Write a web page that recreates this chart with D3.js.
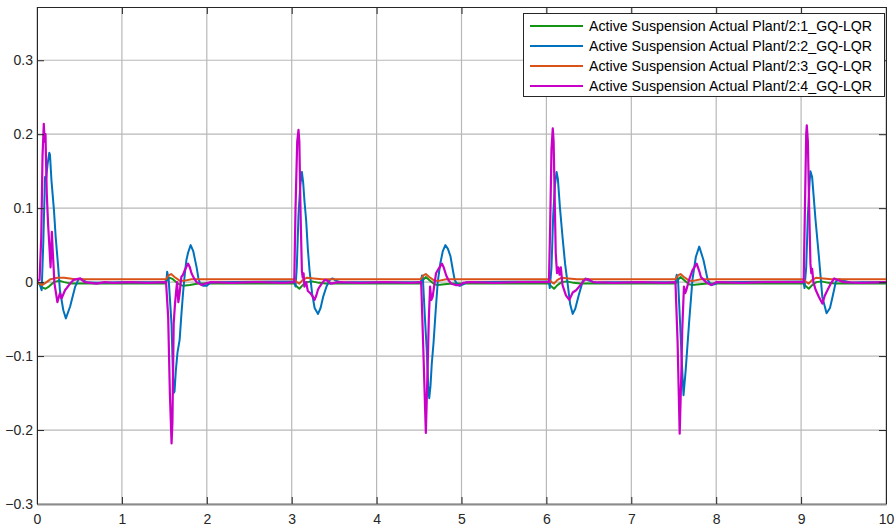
<!DOCTYPE html>
<html><head><meta charset="utf-8">
<script src="https://cdn.jsdelivr.net/npm/d3@7/dist/d3.min.js"></script>
<style>
html,body{margin:0;padding:0;background:#fff;}
svg{display:block;font-family:"Liberation Sans",Arial,sans-serif;}
</style></head>
<body>
<svg id="c" width="896" height="526"></svg>
<script>
const xTicks = [0,1,2,3,4,5,6,7,8,9,10];
const yTicks = [-0.3,-0.2,-0.1,0,0.1,0.2,0.3];
const xDomain = [0,10];
const yDomain = [-0.3,0.372];
const seriesNames = [
  "Active Suspension Actual Plant/2:1_GQ-LQR",
  "Active Suspension Actual Plant/2:2_GQ-LQR",
  "Active Suspension Actual Plant/2:3_GQ-LQR",
  "Active Suspension Actual Plant/2:4_GQ-LQR"
];
const seriesColors = ["#149414","#0072BD","#D95319","#C800C8"];

// series 1 (green) [t, value]
const s1 = [[0,0],[0.03,-0.003],[0.06,-0.007],[0.1,-0.009],[0.14,-0.006],[0.2,0.0],[0.26,0.002],[0.32,0.0],[0.4,-0.002],
[1.5,-0.002],[1.53,0.002],[1.56,0.006],[1.6,0.004],[1.66,-0.002],[1.72,-0.005],[1.8,-0.004],[1.9,-0.002],
[3.03,-0.002],[3.06,-0.006],[3.09,-0.009],[3.13,-0.004],[3.18,0.0],[3.24,0.001],[3.32,-0.001],[3.4,-0.002],
[4.52,-0.002],[4.55,0.003],[4.58,0.007],[4.62,0.003],[4.68,-0.003],[4.72,-0.004],[4.8,-0.003],[4.9,-0.002],
[6.03,-0.002],[6.06,-0.006],[6.09,-0.009],[6.13,-0.004],[6.18,0.0],[6.24,0.001],[6.32,-0.001],[6.4,-0.002],
[7.52,-0.002],[7.55,0.003],[7.58,0.007],[7.62,0.003],[7.68,-0.003],[7.72,-0.004],[7.8,-0.003],[7.9,-0.002],
[9.03,-0.002],[9.06,-0.006],[9.09,-0.009],[9.13,-0.004],[9.18,0.0],[9.24,0.001],[9.32,-0.001],[9.4,-0.002],[10,-0.002]];

// series 2 (blue)
const s2 = [[0,0],[0.03,-0.002],[0.055,-0.011],[0.074,0.053],[0.094,0.142],[0.105,0.138],[0.125,0.16],[0.145,0.175],[0.153,0.172],[0.17,0.138],[0.2,0.097],[0.22,0.061],[0.25,0.02],[0.27,-0.011],[0.31,-0.038],[0.34,-0.049],[0.39,-0.033],[0.45,-0.006],[0.49,0.004],[0.53,0.004],[0.58,0.0],[0.7,-0.001],[1.0,0.0],[1.5,0.0],
[1.525,0.002],[1.533,0.014],[1.55,0.005],[1.57,-0.03],[1.585,-0.058],[1.6,-0.12],[1.61,-0.15],[1.62,-0.148],[1.635,-0.12],[1.655,-0.095],[1.68,-0.078],[1.70,-0.045],[1.72,-0.015],[1.74,0.01],[1.76,0.03],[1.78,0.04],[1.81,0.05],[1.84,0.042],[1.88,0.02],[1.9,0.006],[1.92,-0.002],[1.96,-0.005],[2.0,-0.005],[2.04,-0.001],[2.1,0.0],
[3.03,0.001],[3.045,-0.006],[3.06,0.02],[3.08,0.09],[3.1,0.13],[3.12,0.149],[3.135,0.135],[3.15,0.11],[3.17,0.084],[3.19,0.045],[3.21,0.016],[3.24,-0.015],[3.27,-0.035],[3.31,-0.043],[3.34,-0.035],[3.37,-0.02],[3.41,-0.006],[3.45,0.003],[3.48,0.005],[3.52,0.002],[3.6,-0.001],[3.7,0.0],
[4.52,0.0],[4.535,0.009],[4.545,0.006],[4.57,-0.05],[4.59,-0.09],[4.61,-0.145],[4.62,-0.157],[4.635,-0.14],[4.65,-0.11],[4.67,-0.083],[4.695,-0.04],[4.72,0.0],[4.75,0.025],[4.78,0.042],[4.81,0.05],[4.84,0.045],[4.87,0.035],[4.9,0.015],[4.92,0.003],[4.95,-0.003],[4.98,-0.005],[5.02,-0.003],[5.06,0.0],
[6.03,0.001],[6.04,-0.008],[6.06,0.02],[6.08,0.09],[6.1,0.13],[6.12,0.149],[6.135,0.14],[6.16,0.1],[6.19,0.061],[6.22,0.025],[6.25,-0.002],[6.28,-0.03],[6.31,-0.043],[6.34,-0.036],[6.38,-0.018],[6.43,0.002],[6.46,0.005],[6.5,0.002],[6.6,-0.001],[6.7,0.0],
[7.52,0.0],[7.535,0.01],[7.55,0.004],[7.575,-0.056],[7.6,-0.12],[7.615,-0.153],[7.64,-0.12],[7.68,-0.056],[7.72,0.003],[7.76,0.034],[7.80,0.048],[7.85,0.03],[7.9,0.003],[7.94,-0.004],[7.98,-0.003],[8.03,0.0],
[9.03,0.001],[9.04,-0.008],[9.06,0.02],[9.08,0.09],[9.1,0.135],[9.11,0.15],[9.13,0.142],[9.17,0.084],[9.21,0.034],[9.25,-0.02],[9.30,-0.042],[9.34,-0.035],[9.37,-0.02],[9.41,0.001],[9.45,0.004],[9.5,0.002],[9.6,-0.001],[9.7,0.0],[10,0.0]];

// series 3 (orange)
const s3 = [[0,0.001],[0.03,-0.002],[0.06,-0.004],[0.1,-0.001],[0.16,0.004],[0.24,0.006],[0.32,0.006],[0.45,0.004],
[1.52,0.004],[1.55,0.009],[1.58,0.011],[1.62,0.007],[1.68,0.002],[1.74,0.002],[1.82,0.004],
[3.03,0.004],[3.06,0.0],[3.09,-0.002],[3.13,0.003],[3.18,0.006],[3.26,0.005],[3.36,0.004],
[4.52,0.004],[4.55,0.009],[4.58,0.011],[4.62,0.007],[4.68,0.002],[4.74,0.002],[4.82,0.004],
[6.03,0.004],[6.06,0.0],[6.09,-0.002],[6.13,0.003],[6.18,0.006],[6.26,0.005],[6.36,0.004],
[7.52,0.004],[7.55,0.009],[7.58,0.011],[7.62,0.007],[7.68,0.002],[7.74,0.002],[7.82,0.004],
[9.03,0.004],[9.06,0.0],[9.09,-0.002],[9.13,0.003],[9.18,0.006],[9.26,0.005],[9.36,0.004],[10,0.004]];

// series 4 (magenta)
const s4 = [[0,0.002],[0.03,0.003],[0.05,0.06],[0.065,0.17],[0.08,0.214],[0.09,0.19],[0.1,0.2],[0.108,0.156],[0.115,0.12],[0.13,0.08],[0.16,0.02],[0.175,0.068],[0.185,0.043],[0.205,-0.001],[0.24,-0.027],[0.27,-0.015],[0.29,-0.022],[0.33,-0.011],[0.39,-0.002],[0.43,0.003],[0.51,0.005],[0.56,0.0],[0.7,-0.002],[0.8,0.0],[0.9,-0.001],[1.1,0.0],[1.3,-0.001],[1.52,0.0],
[1.545,-0.047],[1.565,-0.15],[1.585,-0.218],[1.595,-0.19],[1.6,-0.146],[1.61,-0.056],[1.625,-0.03],[1.64,-0.011],[1.65,0.0],[1.665,-0.027],[1.68,-0.015],[1.70,0.007],[1.72,0.01],[1.74,0.016],[1.76,0.021],[1.78,0.025],[1.80,0.02],[1.82,0.012],[1.85,0.005],[1.88,0.0],[1.94,-0.004],[1.98,-0.002],[2.05,0.0],[2.3,-0.001],[2.6,0.0],[2.9,-0.001],[3.03,0.0],
[3.045,0.1],[3.065,0.19],[3.08,0.206],[3.09,0.19],[3.105,0.09],[3.12,0.015],[3.13,0.006],[3.14,0.012],[3.15,-0.006],[3.17,0.0],[3.19,-0.012],[3.22,-0.015],[3.25,-0.02],[3.27,-0.024],[3.29,-0.018],[3.31,-0.01],[3.33,-0.006],[3.36,-0.001],[3.39,0.003],[3.42,0.002],[3.46,-0.002],[3.55,0.0],[3.8,-0.001],[4.1,0.0],[4.4,-0.001],[4.525,0.0],
[4.55,-0.09],[4.58,-0.204],[4.6,-0.12],[4.615,-0.05],[4.63,-0.006],[4.645,-0.024],[4.66,-0.02],[4.70,0.012],[4.73,0.018],[4.77,0.025],[4.79,0.02],[4.82,0.009],[4.85,0.002],[4.88,-0.002],[4.93,-0.004],[4.98,-0.004],[5.02,-0.001],[5.1,0.0],[5.4,-0.001],[5.7,0.0],[6.03,0.0],
[6.045,0.08],[6.06,0.18],[6.075,0.208],[6.085,0.19],[6.1,0.1],[6.11,0.039],[6.125,0.012],[6.14,0.02],[6.155,0.01],[6.17,0.02],[6.19,-0.004],[6.23,-0.018],[6.27,-0.024],[6.31,-0.014],[6.35,-0.011],[6.4,-0.004],[6.45,0.003],[6.49,0.004],[6.55,0.0],[6.8,-0.001],[7.1,0.0],[7.4,-0.001],[7.52,0.0],
[7.545,-0.08],[7.57,-0.205],[7.59,-0.12],[7.6,-0.065],[7.62,-0.006],[7.635,-0.015],[7.65,-0.01],[7.68,0.003],[7.72,0.016],[7.77,0.025],[7.80,0.015],[7.82,0.007],[7.88,0.0],[7.94,-0.004],[8.0,0.0],[8.3,-0.001],[8.6,0.0],[9.03,0.0],
[9.045,0.1],[9.06,0.2],[9.067,0.212],[9.08,0.19],[9.095,0.1],[9.11,0.025],[9.12,0.012],[9.13,0.018],[9.145,0.0],[9.17,-0.01],[9.21,-0.02],[9.25,-0.029],[9.28,-0.018],[9.31,-0.011],[9.35,-0.002],[9.39,0.005],[9.43,0.003],[9.5,0.0],[9.7,-0.001],[10,0.0]];

const seriesData = [s1, s2, s3, s4];

const svg = d3.select("#c");
const L = 37, R = 886, T = 7, B = 504;
const x = d3.scaleLinear().domain(xDomain).range([L, R]);
const y = d3.scaleLinear().domain(yDomain).range([B, T]);
const axisColor = "#262626";
const fmt = d => d === 0 ? "0" : d3.format(".1f")(d);

// grid
const grid = svg.append("g");
grid.selectAll("line.gx").data(xTicks).join("line")
  .attr("x1", d => x(d)).attr("x2", d => x(d)).attr("y1", T).attr("y2", B)
  .attr("stroke", "#b8b8b8").attr("stroke-width", 1.2);
grid.selectAll("line.gy").data(yTicks).join("line")
  .attr("x1", L).attr("x2", R).attr("y1", d => y(d)).attr("y2", d => y(d))
  .attr("stroke", "#b8b8b8").attr("stroke-width", 1.2);

// series
const line = d3.line().x(d => x(d[0])).y(d => y(d[1]));
svg.append("clipPath").attr("id","pc").append("rect")
  .attr("x", L).attr("y", T).attr("width", R - L).attr("height", B - T);
const lines = svg.append("g").attr("clip-path","url(#pc)");
seriesData.forEach((s, i) => {
  lines.append("path").datum(s).attr("d", line).attr("fill","none")
    .attr("stroke", seriesColors[i]).attr("stroke-width", i === 3 ? 2.2 : 2)
    .attr("stroke-linejoin","round");
});

// axes
const axB = d3.axisBottom(x).tickValues(xTicks).tickSizeInner(-7).tickSizeOuter(0).tickPadding(10).tickFormat(d => d);
const axT = d3.axisTop(x).tickValues(xTicks).tickSizeInner(-7).tickSizeOuter(0).tickFormat("");
const axLft = d3.axisLeft(y).tickValues(yTicks).tickSizeInner(-7).tickSizeOuter(0).tickPadding(4).tickFormat(fmt);
const axRt = d3.axisRight(y).tickValues(yTicks).tickSizeInner(-7).tickSizeOuter(0).tickFormat("");

function style(g, dom) {
  g.select(".domain").attr("stroke", dom).attr("stroke-width", 1);
  g.selectAll(".tick line").attr("stroke", axisColor).attr("stroke-width", 1);
  g.selectAll(".tick text").attr("fill", axisColor).attr("font-size", 14)
    .attr("font-family", "'Liberation Sans', Arial, sans-serif");
}
style(svg.append("g").attr("transform", `translate(0,${T})`).call(axT), axisColor);
style(svg.append("g").attr("transform", `translate(${R},0)`).call(axRt), axisColor);
style(svg.append("g").attr("transform", `translate(${L},0)`).call(axLft), axisColor);
const gb = svg.append("g").attr("transform", `translate(0,${B})`).call(axB);
style(gb, "#8c8c8c");
gb.select(".domain").attr("stroke-width", 2);

// legend
const lg = svg.append("g");
lg.append("rect").attr("x", 523.5).attr("y", 13.5).attr("width", 361).attr("height", 83)
  .attr("fill", "#fff").attr("stroke", "#262626").attr("stroke-width", 1);
seriesNames.forEach((n, i) => {
  const yy = 26 + i * 20;
  lg.append("line").attr("x1", 530).attr("x2", 583).attr("y1", yy).attr("y2", yy)
    .attr("stroke", seriesColors[i]).attr("stroke-width", 2);
  lg.append("text").attr("x", 589).attr("y", yy).attr("dy", "0.35em")
    .attr("font-size", 14.2).attr("fill", "#000").text(n);
});
</script>
</body></html>
